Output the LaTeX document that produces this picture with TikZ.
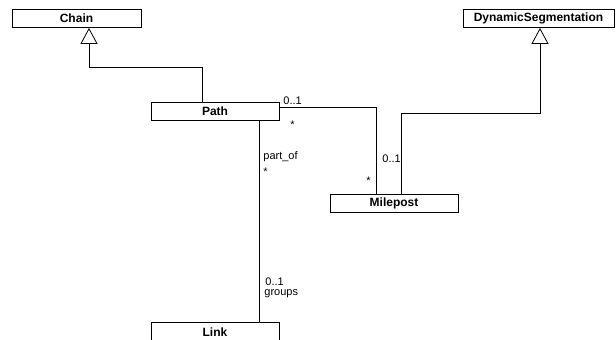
\documentclass[tikz,border=0pt]{standalone}
\usepackage{fontspec}
\setmainfont{Liberation Sans}
\usetikzlibrary{arrows.meta}

\begin{document}
\begin{tikzpicture}[x=1pt,y=-1pt, line width=0.8pt,
    classbox/.style={
                draw,
                fill=white,
                minimum width=128pt,
                minimum height=18pt,
                inner sep=0pt,
                font=\fontsize{12}{14}\selectfont\bfseries
              },
    gen/.style={-{Triangle[length=16pt, width=17pt, fill=white]}},
    mult/.style={anchor=base west, inner sep=0pt, font=\fontsize{11}{13}\selectfont}]
    \useasboundingbox (0,0) rectangle (616,340);

    % classes
    \node[classbox, minimum width=129pt] (chain) at (76.5, 18.5) {Chain};
    \node[classbox, minimum width=151pt] (dynseg) at (538.5, 18.5) {DynamicSegmentation};
    \node[classbox] (path) at (215, 111.5) {Path};
    \node[classbox] (milepost) at (394, 203) {Milepost};
    \node[classbox, minimum height=20pt] (link) at (215, 332) {Link};

    % generalisations
    \coordinate (chainbend) at (89, 67);
    \coordinate (segbend) at (540, 113);
    \draw[gen] ([xshift=-13pt]path.north) |- (chainbend) -- (chainbend |- chain.south);
    \draw[gen] ([xshift=7pt]milepost.north) |- (segbend) -- (segbend |- dynseg.south);

    % associations
    \draw ([yshift=4.5pt]path.east) -| ([xshift=-18pt]milepost.north);
    \draw ([xshift=44pt]path.south) -- ([xshift=44pt]link.north);

    \node[mult] (pathone) at (283, 104) {0..1};
    \node[mult] (pathmany) at (290, 128) {*};
    \node[mult] (mileone) at (382, 162) {0..1};
    \node[mult] (milemany) at (366, 184) {*};
    \node[mult] (partof) at (263, 159) {part\_of};
    \node[mult] (partmany) at (263, 175) {*};
    \node[mult] (linkone) at (265, 285) {0..1};
    \node[mult] (groups) at (264, 295) {groups};
\end{tikzpicture}
\end{document}
